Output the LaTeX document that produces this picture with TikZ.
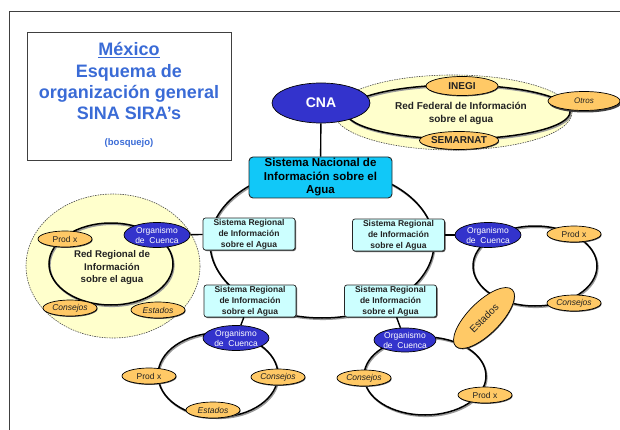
\documentclass[tikz,border=0pt]{standalone}
\usepackage{fontspec}
\setmainfont{Liberation Sans}
\usetikzlibrary{shapes.geometric,shadows}
\definecolor{dblue}{HTML}{3333CC}
\definecolor{orng}{HTML}{FFC966}
\definecolor{pyel}{HTML}{FFFFCC}
\definecolor{cyanb}{HTML}{11C8F8}
\definecolor{lcyan}{HTML}{CCFFFF}
\definecolor{ttl}{HTML}{3A6BD6}
\definecolor{txt}{HTML}{222222}
\newcommand{\myfs}[2]{\fontsize{#1}{#2}\selectfont}
\tikzset{
  orgell/.style={ellipse, draw=black, line width=0.7pt, fill=orng, inner sep=0pt, text=txt,
    minimum width=54pt, minimum height=16pt, font=\myfs{8.5}{10},
    drop shadow={shadow xshift=0.6pt, shadow yshift=-0.9pt, fill=black!70, opacity=1}},
  blueell/.style={ellipse, draw=black, line width=0.7pt, fill=dblue, inner sep=0pt, text=white},
  cuenca/.style={blueell, minimum width=66pt, minimum height=25pt, align=center, font=\myfs{8.5}{10}},
  regbox/.style={rectangle, rounded corners=2.5pt, draw=black!85, line width=0.7pt, fill=lcyan,
    minimum width=92pt, minimum height=32pt, inner sep=0pt, align=center, text=txt,
    font=\bfseries\myfs{8.5}{11},
    drop shadow={shadow xshift=1pt, shadow yshift=-1pt, fill=black!70, opacity=1}},
  ring/.style={line width=1.5pt, draw=black},
  ringsh/.style={line width=1.5pt, draw=black!40},
  zone/.style={draw=black!70, dash pattern=on 1.5pt off 1pt, fill=pyel, line width=0.6pt},
  conn/.style={line width=1.4pt, draw=black},
  ttltxt/.style={text=ttl, font=\bfseries\myfs{18}{21}, inner sep=0pt, anchor=base},
  plain/.style={text=txt, align=center, inner sep=0pt},
}
\begin{document}
\begin{tikzpicture}[x=1pt,y=-1pt]
\useasboundingbox (0,0) rectangle (620,430);
% frame
\draw[line width=1pt, black!75] (621,12) -- (9,12) -- (9,431);
% title box
\node[draw=black!75, line width=0.9pt, minimum width=204pt, minimum height=128pt, inner sep=0pt] (tbox) at (129,96) {};
\node[ttltxt] (t1) at (129,56) {\underline{México}};
\node[ttltxt] (t2) at (129,78) {Esquema de};
\node[ttltxt] (t3) at (129,99) {organización general};
\node[ttltxt] (t4) at (129,120) {SINA SIRA’s};
\node[ttltxt, font=\bfseries\myfs{9.5}{11}] (t5) at (129,146) {(bosquejo)};
% yellow zones
\draw[zone] (453,112.5) ellipse [x radius=119, y radius=37.5];
\draw[zone] (113,266) ellipse [x radius=87, y radius=72];
% rings
\foreach \cx/\cy/\rx/\ry in {458/112/112/27, 322/243/112/75, 111/264/62/41, 218/375/60/42, 425/376/61/39, 535/266/62/40} {
  \draw[ringsh] (\cx+0.9,\cy+1.3) ellipse [x radius=\rx, y radius=\ry];
  \draw[ring] (\cx,\cy) ellipse [x radius=\rx, y radius=\ry];
}
% federal network
\node[blueell, minimum width=98pt, minimum height=40pt, font=\bfseries\myfs{14}{16}] (cna) at (321,103) {CNA};
\node[orgell, minimum width=72pt, minimum height=19pt, font=\bfseries\myfs{10}{12}] (inegi) at (462,86) {INEGI};
\node[orgell, minimum width=72pt, minimum height=18pt, font=\bfseries\myfs{10}{12}] (semarnat) at (459,140.5) {SEMARNAT};
\node[orgell, minimum width=72pt, minimum height=19pt, font=\itshape\myfs{8}{10},
  drop shadow={shadow xshift=1.2pt, shadow yshift=-2pt, fill=black!75, opacity=1}] (otros) at (584,101) {Otros};
\node[plain, font=\bfseries\myfs{10}{13}] (fedtxt) at (461,113) {Red Federal de Información\\sobre el agua};
% national system
\node[draw=black!85, line width=0.9pt, fill=cyanb, rounded corners=4pt, minimum width=143pt, minimum height=41pt,
  inner sep=0pt, align=center, text=black, font=\bfseries\myfs{11.5}{13.5}] (nac) at (320.5,177.5)
  {Sistema Nacional de\\Información sobre el\\Agua};
% regional boxes
\node[regbox] (reg1) at (249,234) {Sistema Regional\\de Información\\sobre el Agua};
\node[regbox] (reg2) at (398.5,235) {Sistema Regional\\de Información\\sobre el Agua};
\node[regbox] (reg3) at (250,301) {Sistema Regional\\de Información\\sobre el Agua};
\node[regbox] (reg4) at (390.5,301) {Sistema Regional\\de Información\\sobre el Agua};
% left group
\node[cuenca] (orgL) at (157,235) {Organismo\\de\ \ Cuenca};
\node[orgell] (prodL) at (65,239) {Prod x};
\node[orgell, font=\itshape\myfs{8.5}{10}] (consL) at (70,308) {Consejos};
\node[orgell, font=\itshape\myfs{8.5}{10}] (estL) at (158,310) {Estados};
\node[plain, font=\bfseries\myfs{9.7}{12.5}] (regtxt) at (112,268) {Red Regional de\\Información\\sobre el agua};
% bottom-left group
\node[cuenca] (orgBL) at (236,338) {Organismo\\de\ \ Cuenca};
\node[orgell] (prodBL) at (149,376) {Prod x};
\node[orgell, font=\itshape\myfs{8.5}{10}] (consBL) at (278,377) {Consejos};
\node[orgell, font=\itshape\myfs{8.5}{10}] (estBL) at (213,410) {Estados};
% bottom-right group
\node[cuenca, minimum width=62pt, minimum height=24pt] (orgBR) at (405,340) {Organismo\\de\ \ Cuenca};
\node[orgell, font=\itshape\myfs{8.5}{10}] (consBR) at (364,378) {Consejos};
\node[orgell] (prodBR) at (485,395) {Prod x};
% right group
\node[cuenca] (orgR) at (488,235) {Organismo\\de\ \ Cuenca};
\node[orgell] (prodR) at (574,234) {Prod x};
\node[orgell, font=\itshape\myfs{8.5}{10}] (consR) at (574,303) {Consejos};
% shared Estados
\node[orgell, rotate=45, minimum width=80pt, minimum height=32pt, font=\myfs{10}{12}] (estBig) at (484,318) {Estados};
% connectors
\draw[conn] (cna) -- (nac);
\draw[conn] (orgL) -- (reg1);
\draw[conn] (reg2) -- (orgR);
\draw[conn] (reg3) -- (orgBL);
\draw[conn] (reg4) -- (orgBR);
\end{tikzpicture}
\end{document}
